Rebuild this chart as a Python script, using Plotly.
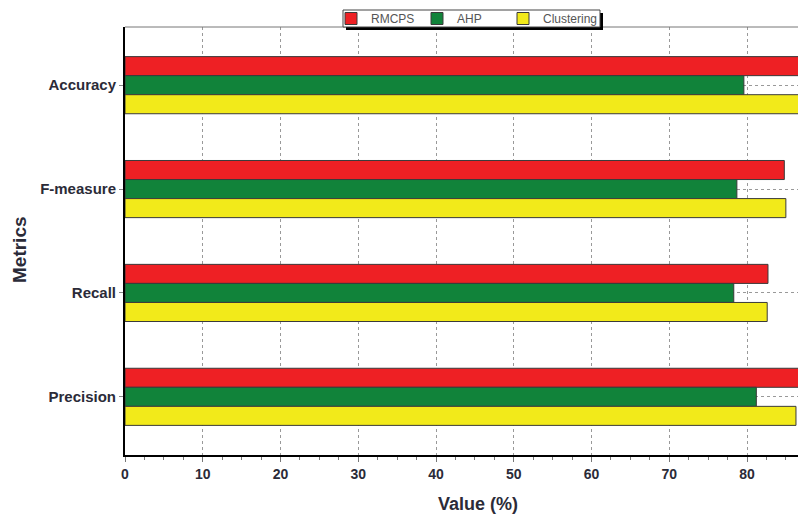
import plotly.graph_objects as go

categories = ["Accuracy", "F-measure", "Recall", "Precision"]
rmcps = [88.0, 84.8, 82.7, 88.0]
ahp = [79.6, 78.7, 78.3, 81.2]
clustering = [87.5, 85.0, 82.6, 86.3]
series_names = ["RMCPS", "AHP", "Clustering"]
colors = ["#EE2024", "#11833A", "#F2EA1A"]
x_ticks = [0, 10, 20, 30, 40, 50, 60, 70, 80]

FONT = "Liberation Sans, Arial, sans-serif"

fig = go.Figure()
for name, vals, col in zip(series_names, [rmcps, ahp, clustering], colors):
    fig.add_trace(go.Bar(
        y=categories, x=vals, name=name, orientation="h",
        marker=dict(color=col, line=dict(color="#3a3a3a", width=1)),
    ))
# invisible spacer entry so the last legend label is not clipped
fig.add_trace(go.Scatter(
    x=[None], y=[None], name="", mode="markers",
    marker=dict(opacity=0, color="rgba(0,0,0,0)"), hoverinfo="skip",
))

W, H = 798, 514
L, R, T, B = 125, 0, 27, 59
pw, ph = W - L - R, H - T - B

def px(x):
    return (x - L) / pw

def py(y):
    return (H - B - y) / ph

fig.update_layout(
    width=W, height=H,
    margin=dict(l=L, r=R, t=T, b=B, autoexpand=False),
    paper_bgcolor="white", plot_bgcolor="white",
    barmode="group", bargap=0.45, bargroupgap=0,
    font=dict(family=FONT, color="#2b2b38"),
    showlegend=True,
    legend=dict(
        orientation="h", x=px(331), xanchor="left", y=py(18.5), yanchor="middle",
        bgcolor="rgba(0,0,0,0)", borderwidth=0,
        font=dict(size=12, color="#555", family=FONT),
        entrywidth=41, traceorder="normal",
    ),
    xaxis=dict(
        range=[0, 86.56], tickvals=x_ticks, ticktext=[str(v) for v in x_ticks],
        showgrid=True, gridcolor="#999", griddash="3px,3px", gridwidth=1,
        showline=True, linecolor="black", linewidth=2,
        ticks="outside", ticklen=5, tickcolor="#777", tickwidth=1,
        minor=dict(dtick=2.5, tick0=0, ticks="outside", ticklen=3, tickcolor="#777", showgrid=False),
        tickfont=dict(size=14, family=FONT, weight="bold", color="#2b2b38"),
        zeroline=False, fixedrange=True,
    ),
    yaxis=dict(
        categoryorder="array", categoryarray=categories,
        range=[3.56, -0.56],
        showgrid=True, gridcolor="#999", griddash="3px,3px", gridwidth=1,
        showline=True, linecolor="black", linewidth=2,
        ticks="outside", ticklen=4, tickcolor="#888",
        tickfont=dict(size=15, family=FONT, weight="bold", color="#2b2b38"),
        zeroline=False, fixedrange=True,
    ),
    shapes=[
        dict(type="line", xref="paper", yref="paper", x0=0, x1=1, y0=1, y1=1,
             line=dict(color="#777", width=1)),
        dict(type="rect", xref="paper", yref="paper",
             x0=px(346), x1=px(603), y0=py(30), y1=py(13),
             fillcolor="black", line=dict(width=0), layer="above"),
        dict(type="rect", xref="paper", yref="paper",
             x0=px(343), x1=px(600), y0=py(27), y1=py(10),
             fillcolor="white", line=dict(color="#444", width=1), layer="above"),
    ],
    annotations=[
        dict(text="Metrics", xref="paper", yref="paper", x=px(20), y=py(250),
             textangle=-90, showarrow=False, xanchor="center", yanchor="middle",
             font=dict(size=19, family=FONT, weight="bold", color="#2b2b38")),
        dict(text="Value (%)", xref="paper", yref="paper", x=px(478), y=py(504),
             showarrow=False, xanchor="center", yanchor="middle",
             font=dict(size=18, family=FONT, weight="bold", color="#2b2b38")),
    ],
)

fig.write_html(
    "out.html",
    config={"displayModeBar": False},
    post_script="document.body.style.margin='0';document.body.style.overflow='hidden';",
)
